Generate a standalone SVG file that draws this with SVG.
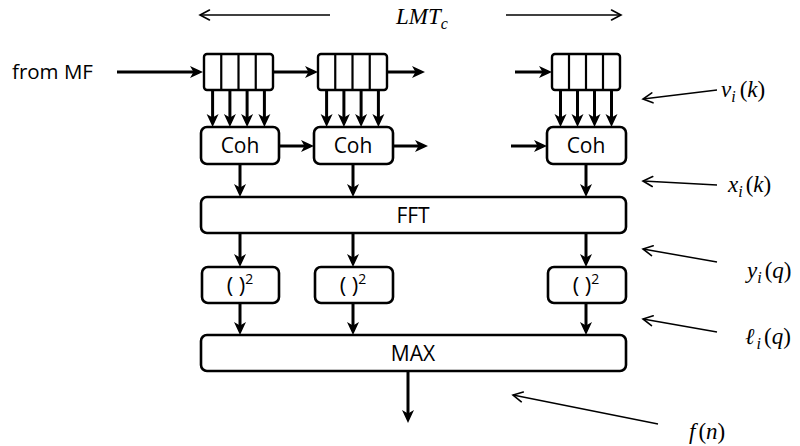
<svg xmlns="http://www.w3.org/2000/svg" width="800" height="446" viewBox="0 0 800 446">
<style>
.box{fill:#fff;stroke:#000;stroke-width:2.6}
.reg{fill:#fff;stroke:#000;stroke-width:2.4}
.div{stroke:#000;stroke-width:2.2}
.lbl{font-family:"Open Sans","Liberation Sans",sans-serif;font-size:21px;fill:#000;text-anchor:middle}
.sq{font-size:22px}
.side{font-family:"Open Sans","Liberation Sans",sans-serif;font-size:20.5px;fill:#000}
.math{font-family:"Liberation Serif","Times New Roman",serif;font-size:23px;font-style:italic;fill:#000}
.sub{font-size:16px}
.up{font-style:normal}
.thick{stroke:#000;stroke-width:3;fill:none;marker-end:url(#ah)}
.thin{stroke:#000;stroke-width:1.5;fill:none;marker-end:url(#oh)}
</style>
<defs>
<marker id="ah" markerUnits="userSpaceOnUse" markerWidth="14" markerHeight="14" viewBox="0 0 14 14" refX="9" refY="7" orient="auto">
<path d="M0,1 L13,7 L0,13 L3.5,7 z" fill="#000"/>
</marker>
<marker id="oh" markerUnits="userSpaceOnUse" markerWidth="14" markerHeight="14" viewBox="0 0 14 14" refX="11.5" refY="7" orient="auto">
<path d="M2,2 L11.5,7 L2,12" fill="none" stroke="#000" stroke-width="1.6" stroke-linecap="round"/>
</marker>
</defs>
<rect width="800" height="446" fill="#fff"/>

<g id="connectors">
<line class="thin" x1="330" y1="15" x2="200" y2="15"/>
<line class="thin" x1="506" y1="15" x2="621" y2="15"/>
<line class="thick" x1="117" y1="72" x2="199" y2="72"/>
<line class="thick" x1="273" y1="72" x2="314" y2="72"/>
<line class="thick" x1="387" y1="72" x2="421" y2="72"/>
<line class="thick" x1="515" y1="72" x2="548" y2="72"/>
<line class="thick" x1="279" y1="146" x2="310" y2="146"/>
<line class="thick" x1="393" y1="146" x2="424" y2="146"/>
<line class="thick" x1="511" y1="146" x2="543" y2="146"/>
<line class="thick" x1="212.6" y1="90" x2="212.6" y2="123"/>
<line class="thick" x1="229.9" y1="90" x2="229.9" y2="123"/>
<line class="thick" x1="247.1" y1="90" x2="247.1" y2="123"/>
<line class="thick" x1="264.4" y1="90" x2="264.4" y2="123"/>
<line class="thick" x1="326.6" y1="90" x2="326.6" y2="123"/>
<line class="thick" x1="343.9" y1="90" x2="343.9" y2="123"/>
<line class="thick" x1="361.1" y1="90" x2="361.1" y2="123"/>
<line class="thick" x1="378.4" y1="90" x2="378.4" y2="123"/>
<line class="thick" x1="560.5" y1="90" x2="560.5" y2="123"/>
<line class="thick" x1="577.5" y1="90" x2="577.5" y2="123"/>
<line class="thick" x1="594.5" y1="90" x2="594.5" y2="123"/>
<line class="thick" x1="611.5" y1="90" x2="611.5" y2="123"/>
<line class="thick" x1="240" y1="164" x2="240" y2="193"/>
<line class="thick" x1="353" y1="164" x2="353" y2="193"/>
<line class="thick" x1="586" y1="164" x2="586" y2="193"/>
<line class="thick" x1="240" y1="233" x2="240" y2="263"/>
<line class="thick" x1="353" y1="233" x2="353" y2="263"/>
<line class="thick" x1="586" y1="233" x2="586" y2="263"/>
<line class="thick" x1="240" y1="303" x2="240" y2="331"/>
<line class="thick" x1="353" y1="303" x2="353" y2="331"/>
<line class="thick" x1="586" y1="303" x2="586" y2="331"/>
<line class="thick" x1="408" y1="371" x2="408" y2="419"/>
<line class="thin" x1="717" y1="90" x2="643" y2="99"/>
<line class="thin" x1="717" y1="185" x2="643" y2="181"/>
<line class="thin" x1="717" y1="262" x2="643" y2="249"/>
<line class="thin" x1="717" y1="332" x2="643" y2="319"/>
<line class="thin" x1="658" y1="424" x2="513" y2="395"/>
</g>

<g id="reg1">
<rect class="reg" x="204" y="54" width="69" height="36" rx="3"/>
<line class="div" x1="221.25" y1="54" x2="221.25" y2="90"/>
<line class="div" x1="238.5" y1="54" x2="238.5" y2="90"/>
<line class="div" x1="255.75" y1="54" x2="255.75" y2="90"/>
</g>
<g id="reg2">
<rect class="reg" x="318" y="54" width="69" height="36" rx="3"/>
<line class="div" x1="335.25" y1="54" x2="335.25" y2="90"/>
<line class="div" x1="352.5" y1="54" x2="352.5" y2="90"/>
<line class="div" x1="369.75" y1="54" x2="369.75" y2="90"/>
</g>
<g id="reg3">
<rect class="reg" x="552" y="54" width="68" height="36" rx="3"/>
<line class="div" x1="569" y1="54" x2="569" y2="90"/>
<line class="div" x1="586" y1="54" x2="586" y2="90"/>
<line class="div" x1="603" y1="54" x2="603" y2="90"/>
</g>

<g id="coh1"><rect class="box" x="201" y="127" width="78" height="37" rx="6"/><text class="lbl" x="240" y="153">Coh</text></g>
<g id="coh2"><rect class="box" x="314" y="127" width="79" height="37" rx="6"/><text class="lbl" x="353" y="153">Coh</text></g>
<g id="coh3"><rect class="box" x="547" y="127" width="79" height="37" rx="6"/><text class="lbl" x="586" y="153">Coh</text></g>

<g id="fft"><rect class="box" x="201" y="197" width="425" height="36" rx="6"/><text class="lbl" x="413" y="222.5">FFT</text></g>

<g id="sq1"><rect class="box" x="202" y="267" width="77" height="36" rx="6"/><text class="lbl sq" x="240" y="293">( )<tspan font-size="14" dy="-9">2</tspan></text></g>
<g id="sq2"><rect class="box" x="315" y="267" width="78" height="36" rx="6"/><text class="lbl sq" x="353" y="293">( )<tspan font-size="14" dy="-9">2</tspan></text></g>
<g id="sq3"><rect class="box" x="548" y="267" width="78" height="36" rx="6"/><text class="lbl sq" x="586" y="293">( )<tspan font-size="14" dy="-9">2</tspan></text></g>

<g id="max"><rect class="box" x="201" y="335" width="425" height="36" rx="6"/><text class="lbl" x="413" y="360.5">MAX</text></g>

<g id="labels">
<text class="side" x="12" y="79">from MF</text>
<text class="math" x="396" y="24">LMT<tspan class="sub" dy="5">c</tspan></text>
<text class="math" x="721" y="97">v<tspan class="sub" dy="5">i</tspan><tspan class="up" dx="4" dy="-5">(</tspan>k<tspan class="up">)</tspan></text>
<text class="math" x="728" y="192">x<tspan class="sub" dy="5">i</tspan><tspan class="up" dx="3" dy="-5">(</tspan>k<tspan class="up">)</tspan></text>
<text class="math" x="747" y="278">y<tspan class="sub" dy="5">i</tspan><tspan class="up" dx="3" dy="-5">(</tspan>q<tspan class="up">)</tspan></text>
<text class="math" x="745" y="344">ℓ<tspan class="sub" dx="2" dy="5">i</tspan><tspan class="up" dx="3" dy="-5">(</tspan>q<tspan class="up">)</tspan></text>
<text class="math" x="689" y="439">f<tspan class="up" dx="3">(</tspan>n<tspan class="up">)</tspan></text>
</g>
</svg>
